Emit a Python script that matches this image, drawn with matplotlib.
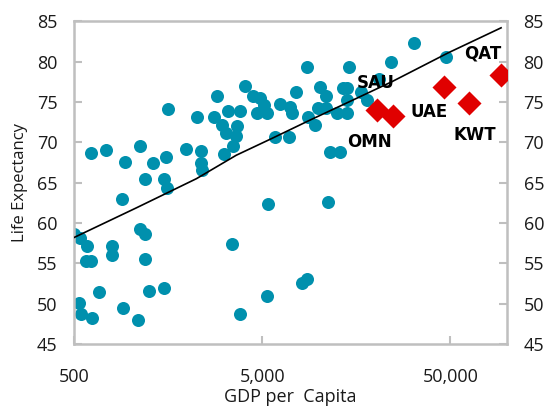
import numpy as np
import matplotlib
matplotlib.use('Agg')
import matplotlib.pyplot as plt

plt.rcParams['font.family'] = ['Open Sans', 'DejaVu Sans']

# other countries: GDP per capita and life expectancy
gdp = [500, 538, 586, 579, 615, 531, 545, 623, 679, 795, 795, 898, 910, 1093,
       1190, 1250, 1501, 1120, 1190, 615, 739, 932, 1120, 1313, 1538, 1190,
       1501, 1557, 1576, 1964, 2247, 2359, 2359, 2388, 2764, 2868, 3124, 3281,
       3487, 3048, 3202, 3661, 3616, 4037, 3798, 4452, 4850, 4675, 5092, 5281,
       5826, 6191, 6910, 6994, 7168, 7530, 8610, 8715, 9496, 10090, 10990, 9848,
       10860, 12570, 14040, 13370, 14210, 14560, 14040, 11410, 13040, 16860,
       18140, 21000, 24320, 32210, 47620, 3444, 5346, 11130, 3798, 5281, 8101,
       8610]
life = [58.6, 58.2, 57.1, 55.3, 55.3, 50.1, 48.7, 48.2, 51.4, 57.2, 56.0, 63.0,
        49.5, 48.0, 55.5, 51.6, 51.9, 59.3, 58.6, 68.7, 69.0, 67.6, 69.6, 67.5,
        68.2, 65.5, 65.5, 64.3, 74.1, 69.2, 73.2, 68.9, 67.4, 66.6, 73.2, 75.8,
        68.6, 73.9, 69.5, 72.1, 71.1, 72.0, 70.8, 77.0, 73.9, 75.7, 75.5, 73.6,
        74.6, 73.6, 70.7, 74.8, 70.7, 74.4, 73.7, 76.2, 79.4, 73.2, 72.2, 76.9,
        75.8, 74.3, 74.3, 73.7, 73.7, 76.8, 76.8, 79.3, 75.2, 68.8, 68.8, 76.2,
        75.3, 77.9, 80.0, 82.35, 80.6, 57.45, 62.4, 62.65, 48.7, 51.0, 52.6, 53.1]

# Gulf states
gulf_names = ['SAU', 'OMN', 'UAE', 'KWT', 'QAT']
gulf_gdp = [20500, 24920, 46470, 63100, 93250]
gulf_life = [74.05, 73.3, 76.9, 74.9, 78.4]

# trend line
trend_gdp = [500, 1077, 2238, 3640, 5650, 8870, 14420, 24370, 48750, 93100]
trend_life = [58.2, 61.9, 65.5, 68.4, 70.5, 72.7, 75.0, 77.5, 81.1, 84.2]

# label offsets (points)
label_offsets = {'SAU': (-1, 19), 'OMN': (-17, -19), 'UAE': (-11, -18),
                 'KWT': (4, -23), 'QAT': (-13, 15)}

fig = plt.figure(figsize=(5.51, 4.11), dpi=100)
ax = fig.add_axes([0.1343, 0.163, 0.7857, 0.785])

ax.scatter(gdp, life, s=88, color='#0090AD', linewidths=0, zorder=2)
ax.plot(trend_gdp, trend_life, color='black', lw=1.2, zorder=3)
ax.scatter(gulf_gdp, gulf_life, s=150, marker='D', color='#E00000',
           linewidths=0, zorder=4)

for name, x, y in zip(gulf_names, gulf_gdp, gulf_life):
    ax.annotate(name, (x, y), xytext=label_offsets[name], textcoords='offset points',
                ha='center', va='center', fontsize=12, fontweight='bold',
                family='DejaVu Sans', color='black', zorder=5)

ax.set_xscale('log')
ax.set_xlim(500, 100000)
ax.set_ylim(45, 85)
ax.set_xticks([500, 5000, 50000])
ax.set_xticklabels(['500', '5,000', '50,000'])
ax.xaxis.set_minor_locator(matplotlib.ticker.NullLocator())
ax.set_yticks(range(45, 90, 5))

for sp in ax.spines.values():
    sp.set_color('#BFBFBF')
    sp.set_linewidth(1.8)

ax.tick_params(axis='y', direction='in', length=6, width=1.5, color='#BFBFBF',
               labelsize=13, right=True, labelright=True, pad=12,
               labelcolor='#1a1a1a')
ax.tick_params(axis='x', direction='in', length=6, width=1.5, color='#BFBFBF',
               labelsize=13, pad=17, labelcolor='#1a1a1a')

ax.set_xlabel('GDP per  Capita', fontsize=13, color='#1a1a1a', labelpad=2)
ax.set_ylabel('Life Expectancy', fontsize=12, color='#1a1a1a', labelpad=6)

plt.savefig('out.png', dpi=100)
